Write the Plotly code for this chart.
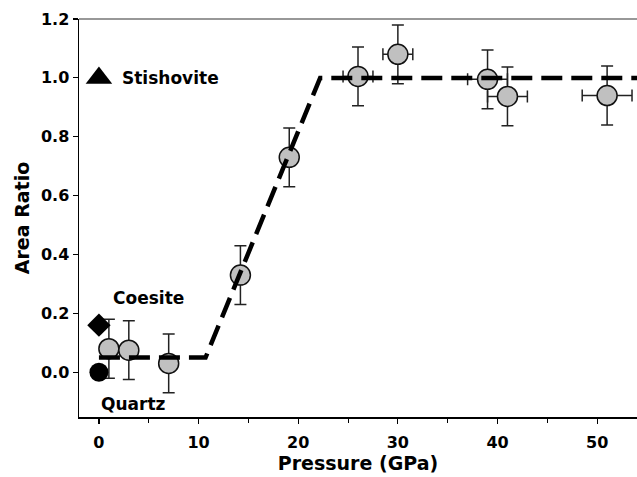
import plotly.graph_objects as go

# Measured data (gray circles)
pressure = [1, 3, 7, 14.2, 19.1, 26, 30, 39, 41, 51]
area_ratio = [0.08, 0.075, 0.03, 0.33, 0.73, 1.005, 1.08, 0.995, 0.937, 0.94]
ratio_err = [0.1, 0.1, 0.1, 0.1, 0.1, 0.1, 0.1, 0.1, 0.1, 0.1]
pressure_err = [0, 0, 0, 0, 0, 1.5, 1.5, 2, 2, 2.5]

# Reference phases (black symbols)
ref_names = ["Stishovite", "Coesite", "Quartz"]
ref_x = [0, 0, 0]
ref_y = [1.0, 0.16, 0.0]
ref_symbols = ["triangle-up", "diamond", "circle"]
ref_sizes = [23, 18, 19]
label_x = [2.1, 5.0, 3.5]
label_y = [1.0, 0.252, -0.108]
label_anchor = ["left", "center", "center"]

# Dashed trend line
trend_x = [0, 10.7, 22.2, 54]
trend_y = [0.05, 0.05, 1.0, 1.0]

FONT = "DejaVu Sans"

fig = go.Figure()

fig.add_trace(go.Scatter(
    x=pressure, y=area_ratio, mode="markers",
    marker=dict(size=20, color="#c0c0c0", line=dict(color="#111111", width=1.5)),
    error_y=dict(type="data", array=ratio_err, color="#222222", thickness=1.5, width=6),
    error_x=dict(type="data", array=pressure_err, color="#222222", thickness=1.5, width=6),
    showlegend=False, hoverinfo="skip",
))

for i in range(len(ref_names)):
    fig.add_trace(go.Scatter(
        x=[ref_x[i]], y=[ref_y[i]], mode="markers",
        marker=dict(size=ref_sizes[i], color="black", symbol=ref_symbols[i]),
        showlegend=False, hoverinfo="skip", name=ref_names[i],
    ))
    fig.add_annotation(
        x=label_x[i], y=label_y[i], text=ref_names[i], showarrow=False,
        xanchor=label_anchor[i], yanchor="middle",
        font=dict(family=FONT, size=17, color="black", weight="bold"),
    )

fig.add_trace(go.Scatter(
    x=trend_x, y=trend_y, mode="lines",
    line=dict(color="black", width=4.5, dash="21px,9px"),
    showlegend=False, hoverinfo="skip",
))

fig.update_layout(
    width=637, height=477,
    margin=dict(l=79, r=0, t=19, b=60),
    paper_bgcolor="white", plot_bgcolor="white",
    hovermode=False,
    xaxis=dict(
        range=[-2, 54], dtick=10, tick0=0, automargin=False,
        showgrid=False, zeroline=False,
        showline=True, linecolor="black", linewidth=1.5,
        ticks="outside", ticklen=5, tickwidth=1.2, tickcolor="black",
        ticklabelstandoff=5,
        minor=dict(ticks="outside", dtick=5, tick0=0, ticklen=4, tickwidth=1, tickcolor="black"),
        tickfont=dict(family=FONT, size=16, color="black", weight="bold"),
        title=dict(text="Pressure (GPa)", standoff=4,
                   font=dict(family=FONT, size=19, color="black", weight="bold")),
    ),
    yaxis=dict(
        range=[-0.152, 1.2], dtick=0.2, tick0=0, tickformat=".1f", automargin=False,
        showgrid=False, zeroline=False,
        showline=True, linecolor="black", linewidth=1.5,
        ticks="outside", ticklen=5, tickwidth=1.2, tickcolor="black",
        tickfont=dict(family=FONT, size=16, color="black", weight="bold"),
        title=dict(text="Area Ratio", standoff=6,
                   font=dict(family=FONT, size=19, color="black", weight="bold")),
    ),
    shapes=[dict(type="line", xref="paper", yref="paper", x0=0, x1=1, y0=1, y1=1,
                 line=dict(color="#333333", width=1.2))],
)

fig.write_html(
    "out.html",
    config={"displayModeBar": False, "staticPlot": True},
    post_script="document.body.style.margin='0';document.body.style.overflow='hidden';",
)
